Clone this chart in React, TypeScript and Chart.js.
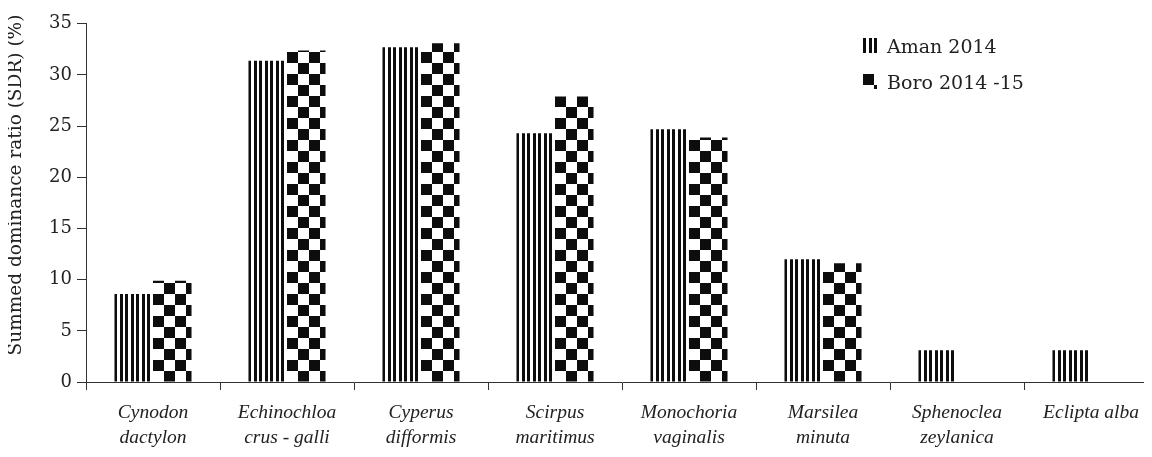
import React, { useEffect, useRef } from "react";
import { Chart, registerables } from "chart.js";

Chart.register(...registerables);

const categories: string[][] = [
  ["Cynodon", "dactylon"],
  ["Echinochloa", "crus - galli"],
  ["Cyperus", "difformis"],
  ["Scirpus", "maritimus"],
  ["Monochoria", "vaginalis"],
  ["Marsilea", "minuta"],
  ["Sphenoclea", "zeylanica"],
  ["Eclipta alba"],
];
const aman2014: number[] = [8.6, 31.4, 32.7, 24.3, 24.7, 12.0, 3.1, 3.1];
const boro201415: number[] = [9.9, 32.4, 33.1, 27.9, 23.9, 11.6, 0, 0];
const seriesNames: string[] = ["Aman 2014", "Boro 2014 -15"];
const yTicks: number[] = [0, 5, 10, 15, 20, 25, 30, 35];
const yTitle = "Summed dominance ratio (SDR) (%)";

const CAT_PCT = 0.575;
const ROMAN = "DejaVu Serif";

function stripeCanvas(): HTMLCanvasElement {
  const c = document.createElement("canvas");
  c.width = 11;
  c.height = 4;
  const g = c.getContext("2d")!;
  g.fillStyle = "#ffffff";
  g.fillRect(0, 0, 11, 4);
  g.fillStyle = "#0d0d0d";
  g.fillRect(0, 0, 3, 4);
  g.fillRect(6, 0, 3, 4);
  return c;
}

function checkerCanvas(): HTMLCanvasElement {
  const c = document.createElement("canvas");
  c.width = 22;
  c.height = 22;
  const g = c.getContext("2d")!;
  g.fillStyle = "#ffffff";
  g.fillRect(0, 0, 22, 22);
  g.fillStyle = "#0d0d0d";
  g.fillRect(0, 0, 11, 11);
  g.fillRect(11, 11, 11, 11);
  return c;
}

export default function App() {
  const ref = useRef<HTMLCanvasElement | null>(null);

  useEffect(() => {
    const canvas = ref.current;
    if (!canvas) return;
    const ctx = canvas.getContext("2d")!;
    const stripeSrc = stripeCanvas();
    const checkerSrc = checkerCanvas();

    const makeFill = (kind: number) => (context: any) => {
      const chart = context.chart;
      const src = kind === 0 ? stripeSrc : checkerSrc;
      const pat = chart.ctx.createPattern(src, "repeat");
      const xs = chart.scales && chart.scales.x;
      const ys = chart.scales && chart.scales.y;
      if (pat && xs && ys && typeof context.dataIndex === "number") {
        const center = xs.getPixelForValue(context.dataIndex);
        const cw = (xs.right - xs.left) / categories.length;
        const left = kind === 0 ? center - (cw * CAT_PCT) / 2 : center;
        const bottom = ys.getPixelForValue(0);
        try {
          pat.setTransform(new DOMMatrix().translate(Math.round(left), kind === 0 ? 0 : bottom));
        } catch (e) {}
      }
      return pat || "#000";
    };

    const legendPlugin = {
      id: "customLegend",
      afterDraw(chart: any) {
        const c = chart.ctx;
        c.save();
        const items = chart.data.datasets;
        items.forEach((ds: any, i: number) => {
          const iconX = 855;
          const iconY = 30 + i * 36;
          const src = i === 0 ? stripeSrc : checkerSrc;
          const pat = c.createPattern(src, "repeat");
          try {
            pat.setTransform(new DOMMatrix().translate(iconX, iconY));
          } catch (e) {}
          c.fillStyle = pat;
          c.fillRect(iconX, iconY, 14, 15);
          c.fillStyle = "#222";
          c.font = `19px "${ROMAN}"`;
          c.textAlign = "left";
          c.textBaseline = "alphabetic";
          c.fillText(ds.label, 879, iconY + 15);
        });
        c.restore();
      },
    };

    const titlePlugin = {
      id: "yTitleCustom",
      afterDraw(chart: any) {
        const c = chart.ctx;
        c.save();
        c.translate(8, 177);
        c.rotate(-Math.PI / 2);
        c.fillStyle = "#222";
        c.font = `18.5px "${ROMAN}"`;
        c.textAlign = "center";
        c.textBaseline = "middle";
        c.fillText(yTitle, 0, 0);
        c.restore();
      },
    };

    const chart = new Chart(ctx, {
      type: "bar",
      data: {
        labels: categories,
        datasets: [
          {
            label: seriesNames[0],
            data: aman2014,
            backgroundColor: makeFill(0),
            borderWidth: 0,
            categoryPercentage: CAT_PCT,
            barPercentage: 1.0,
          },
          {
            label: seriesNames[1],
            data: boro201415,
            backgroundColor: makeFill(1),
            borderWidth: 0,
            categoryPercentage: CAT_PCT,
            barPercentage: 1.0,
          },
        ],
      },
      options: {
        animation: false,
        responsive: false,
        devicePixelRatio: 1,
        layout: { padding: { top: 12, right: 2, left: 0, bottom: 0 } },
        plugins: {
          legend: { display: false },
          tooltip: { enabled: false },
          title: { display: false },
        },
        scales: {
          x: {
            grid: {
              offset: true,
              drawOnChartArea: false,
              drawTicks: true,
              tickLength: 8,
              color: "#333",
            },
            border: { display: true, color: "#333", width: 1 },
            ticks: {
              color: "#222",
              padding: 10,
              maxRotation: 0,
              autoSkip: false,
              font: { family: "Liberation Serif", style: "italic", size: 19.5, lineHeight: 1.3 },
            },
            afterFit(scale: any) {
              scale.height = 75;
            },
          },
          y: {
            min: 0,
            max: 35,
            afterBuildTicks(scale: any) {
              scale.ticks = yTicks.map((v) => ({ value: v }));
            },
            grid: {
              drawOnChartArea: false,
              drawTicks: true,
              tickLength: 9,
              color: "#333",
            },
            border: { display: true, color: "#333", width: 1 },
            ticks: {
              color: "#222",
              padding: 5,
              font: { family: ROMAN, size: 18 },
            },
            afterFit(scale: any) {
              scale.width = 78;
            },
          },
        },
      },
      plugins: [legendPlugin, titlePlugin],
    });

    return () => chart.destroy();
  }, []);

  return (
    <div style={{ width: 1144, height: 449, overflow: "hidden", position: "relative" }}>
      <canvas ref={ref} width={1152} height={449} style={{ width: 1152, height: 449, display: "block" }} />
    </div>
  );
}
